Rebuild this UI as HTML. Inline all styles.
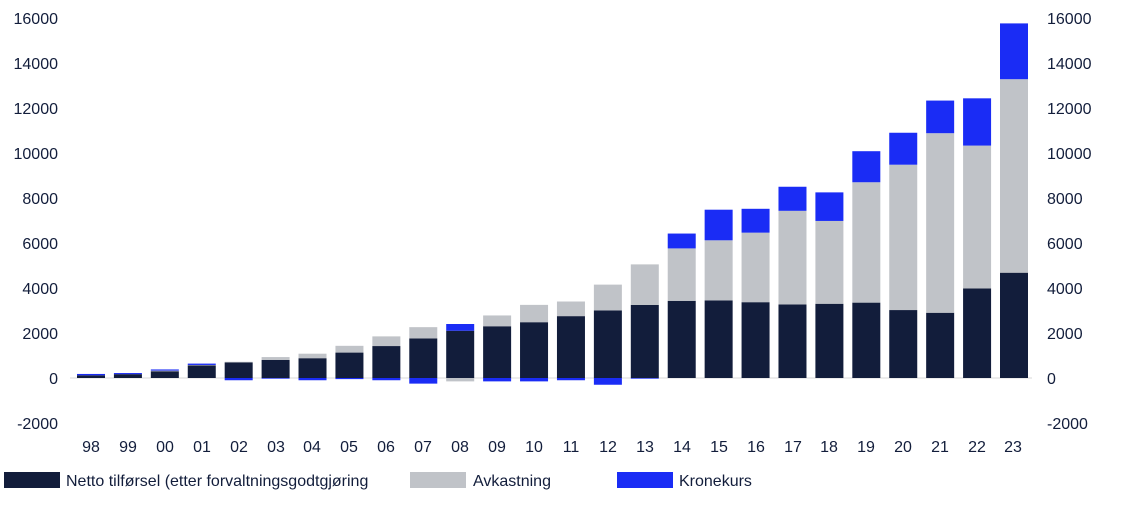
<!DOCTYPE html>
<html><head><meta charset="utf-8"><style>
body{margin:0;background:#fff;width:1131px;height:500px;overflow:hidden}
svg text{font-family:"Liberation Sans",sans-serif;font-size:16px;fill:#121d3b}
</style></head><body>
<svg id="s" width="1131" height="500" xmlns="http://www.w3.org/2000/svg">
<line x1="70" x2="1032" y1="378" y2="378" stroke="#d8d8d8" stroke-width="1"/>
<g text-anchor="end">
<text x="58" y="24">16000</text><text x="58" y="69">14000</text><text x="58" y="114">12000</text>
<text x="58" y="159">10000</text><text x="58" y="204">8000</text><text x="58" y="249">6000</text>
<text x="58" y="294">4000</text><text x="58" y="339">2000</text><text x="58" y="384">0</text>
<text x="58" y="429">-2000</text>
</g>
<g text-anchor="start">
<text x="1047" y="24">16000</text><text x="1047" y="69">14000</text><text x="1047" y="114">12000</text>
<text x="1047" y="159">10000</text><text x="1047" y="204">8000</text><text x="1047" y="249">6000</text>
<text x="1047" y="294">4000</text><text x="1047" y="339">2000</text><text x="1047" y="384">0</text>
<text x="1047" y="429">-2000</text>
</g>
<g text-anchor="middle">
<text x="91" y="452">98</text><text x="128" y="452">99</text><text x="165" y="452">00</text><text x="202" y="452">01</text>
<text x="239" y="452">02</text><text x="276" y="452">03</text><text x="312" y="452">04</text><text x="349" y="452">05</text>
<text x="386" y="452">06</text><text x="423" y="452">07</text><text x="460" y="452">08</text><text x="497" y="452">09</text>
<text x="534" y="452">10</text><text x="571" y="452">11</text><text x="608" y="452">12</text><text x="645" y="452">13</text>
<text x="682" y="452">14</text><text x="719" y="452">15</text><text x="756" y="452">16</text><text x="793" y="452">17</text>
<text x="829" y="452">18</text><text x="866" y="452">19</text><text x="903" y="452">20</text><text x="940" y="452">21</text>
<text x="977" y="452">22</text><text x="1013" y="452">23</text>
</g>
<rect x="4" y="472" width="56" height="16" fill="#121d3b"/>
<text x="66" y="486">Netto tilførsel (etter forvaltningsgodtgjøring</text>
<rect x="410" y="472" width="56" height="16" fill="#c0c3c8"/>
<text x="473" y="486">Avkastning</text>
<rect x="617" y="472" width="56" height="16" fill="#1a2cf5"/>
<text x="679" y="486">Kronekurs</text>
<g id="bars"></g>
</svg>
<script>
var d=[[120,0,60],[170,0,50],[300,30,50],[560,20,60],[690,30,-100],[800,130,-30],[880,200,-100],[1130,300,-50],[1420,430,-100],[1760,500,-250],[2100,-150,300],[2300,480,-150],[2480,770,-150],[2750,650,-100],[3000,1150,-300],[3250,1800,-30],[3430,2330,660],[3450,2670,1360],[3370,3090,1060],[3270,4160,1070],[3300,3680,1270],[3350,5350,1380],[3020,6460,1420],[2900,7980,1450],[3980,6350,2100],[4680,8600,2480]];
var c=["#121d3b","#c0c3c8","#1a2cf5"],g=document.getElementById("bars"),k=0.0225,ns="http://www.w3.org/2000/svg";
d.forEach(function(r,i){var cx=91+i*36.92,pos=0,neg=0;r.forEach(function(v,j){var y0,h;if(v>=0){y0=378-(pos+v)*k;h=v*k;pos+=v;}else{y0=378+neg*k;h=-v*k;neg+=-v;}var e=document.createElementNS(ns,"rect");e.setAttribute("x",cx-14);e.setAttribute("y",y0);e.setAttribute("width",28);e.setAttribute("height",h);e.setAttribute("fill",c[j]);g.appendChild(e);});});
</script>
</body></html>
